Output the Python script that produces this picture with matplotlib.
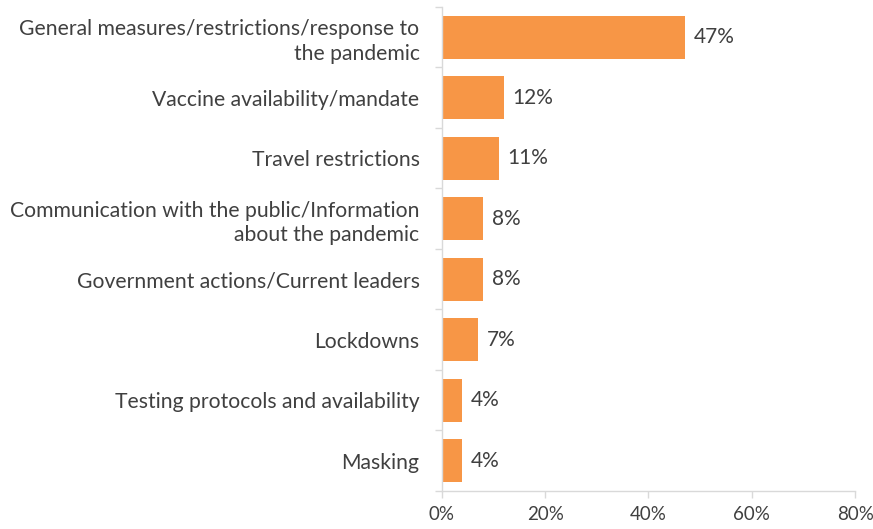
import matplotlib.pyplot as plt
import numpy as np

# categories (top to bottom) and share of responses, %
categories = [
    "General measures/restrictions/response to\nthe pandemic",
    "Vaccine availability/mandate",
    "Travel restrictions",
    "Communication with the public/Information\nabout the pandemic",
    "Government actions/Current leaders",
    "Lockdowns",
    "Testing protocols and availability",
    "Masking",
]
values = [47, 12, 11, 8, 8, 7, 4, 4]
xticks = [0, 20, 40, 60, 80]

plt.rcParams["font.family"] = ["Lato", "DejaVu Sans"]
bar_color = "#F79646"
axis_color = "#D9D9D9"
text_color = "#404040"

fig = plt.figure(figsize=(8.73, 5.29), dpi=100)
ax = fig.add_axes([0.506, 0.072, 0.4735, 0.915])

y = np.arange(len(categories))
ax.barh(y, values, height=0.71, color=bar_color)
for yi, v in zip(y, values):
    ax.text(v + 1.7, yi, f"{v}%", va="center", ha="left", fontsize=15, color=text_color)

ax.set_xlim(0, 80)
ax.set_ylim(len(categories) - 0.5, -0.5)
ax.set_xticks(xticks)
ax.set_xticklabels([f"{t}%" for t in xticks], fontsize=13.5, color=text_color)
ax.set_yticks(y)
ax.set_yticklabels(categories, fontsize=15.2, color=text_color, ha="right",
                   multialignment="right", linespacing=1.3)
ax.set_yticks(np.arange(len(categories) + 1) - 0.5, minor=True)

ax.tick_params(axis="y", which="major", length=0, pad=16)
ax.tick_params(axis="y", which="minor", length=5, color=axis_color, width=1)
ax.tick_params(axis="x", length=5, color=axis_color, width=1, pad=6)

for side in ["top", "right"]:
    ax.spines[side].set_visible(False)
for side in ["left", "bottom"]:
    ax.spines[side].set_color(axis_color)
    ax.spines[side].set_linewidth(1)

fig.savefig("out.png", dpi=100)
